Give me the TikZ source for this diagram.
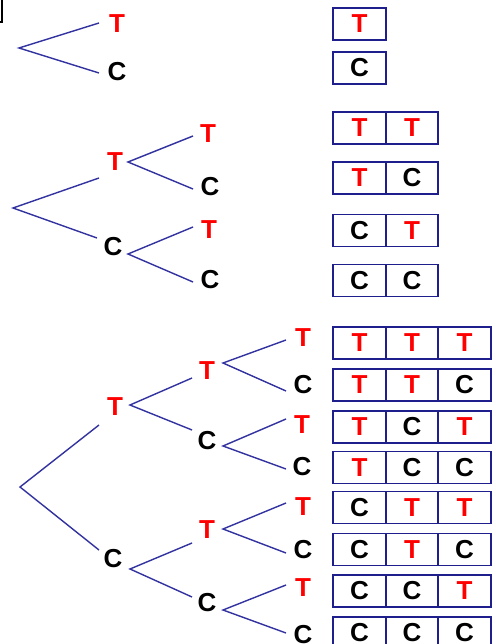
\documentclass[tikz,border=0pt]{standalone}
\usepackage{fontspec}
\setmainfont{Liberation Sans}
\definecolor{treeblue}{RGB}{50,50,160}
\definecolor{boxblue}{RGB}{30,30,140}
\begin{document}
\begin{tikzpicture}[x=1pt,y=-1pt,
  tl/.style={font=\fontsize{26}{26}\selectfont\bfseries, text=red, inner sep=0pt},
  cl/.style={font=\fontsize{26}{26}\selectfont\bfseries, text=black, inner sep=0pt},
  br/.style={draw=treeblue, line width=1.4pt},
  cell/.style={draw=boxblue, line width=1.6pt, minimum width=52.5pt, minimum height=32pt, inner sep=0pt, font=\fontsize{26}{26}\selectfont\bfseries},
  tc/.style={cell, text=red},
  cc/.style={cell, text=black}]
\useasboundingbox (0,0) rectangle (495,644);
\clip (0,0) rectangle (495,644);
\fill[white] (0,0) rectangle (495,644);
% corner artifact
\draw[black, line width=1.4pt] (2,0) -- (2,22) -- (0,22);

% ---------- Tree 1 ----------
\coordinate (r1) at (19,48);
\coordinate (e1t) at (99,23);
\coordinate (e1c) at (99,73);
\node[tl] (a1t) at (117,24) {T};
\node[cl] (a1c) at (117,72) {C};
\draw[br] (e1t) -- (r1) -- (e1c);

\node[tc] (b1a) at (359.5,24) {T};
\node[cc] (b1b) at (359.5,68) {C};

% ---------- Tree 2 ----------
\coordinate (r2) at (13,208);
\coordinate (e2t) at (99,178);
\coordinate (e2c) at (97,238);
\node[tl] (a2t) at (115,162) {T};
\node[cl] (a2c) at (113,247) {C};
\draw[br] (e2t) -- (r2) -- (e2c);

\coordinate (v2t) at (128,162);
\coordinate (e2tt) at (193,136);
\coordinate (e2tc) at (193,189);
\node[tl] (a2tt) at (208,134) {T};
\node[cl] (a2tc) at (210,187) {C};
\draw[br] (e2tt) -- (v2t) -- (e2tc);

\coordinate (v2c) at (128,254);
\coordinate (e2ct) at (193,227);
\coordinate (e2cc) at (193,282);
\node[tl] (a2ct) at (209,230) {T};
\node[cl] (a2cc) at (210,280) {C};
\draw[br] (e2ct) -- (v2c) -- (e2cc);

\node[tc] (b2r1a) at (359.5,128) {T};  \node[tc] (b2r1b) at (412,128) {T};
\node[tc] (b2r2a) at (359.5,178) {T};  \node[cc] (b2r2b) at (412,178) {C};
\node[cc] (b2r3a) at (359.5,230.5) {C};\node[tc] (b2r3b) at (412,230.5) {T};
\node[cc] (b2r4a) at (359.5,280.5) {C};\node[cc] (b2r4b) at (412,280.5) {C};

% ---------- Tree 3 ----------
\coordinate (r3) at (20,487);
\coordinate (e3t) at (99,425);
\coordinate (e3c) at (99,550);
\node[tl] (a3t) at (115,407) {T};
\node[cl] (a3c) at (113,559) {C};
\draw[br] (e3t) -- (r3) -- (e3c);

\coordinate (v3t) at (130,405);
\coordinate (e3tt) at (192,378);
\coordinate (e3tc) at (192,430);
\node[tl] (a3tt) at (207,371) {T};
\node[cl] (a3tc) at (207,441) {C};
\draw[br] (e3tt) -- (v3t) -- (e3tc);

\coordinate (v3c) at (130,569);
\coordinate (e3ct) at (192,543);
\coordinate (e3cc) at (192,597);
\node[tl] (a3ct) at (207,530) {T};
\node[cl] (a3cc) at (207,603) {C};
\draw[br] (e3ct) -- (v3c) -- (e3cc);

\coordinate (v3tt) at (223,363);
\coordinate (e3ttt) at (286,340);
\coordinate (e3ttc) at (286,391);
\node[tl] (a3ttt) at (303,338) {T};
\node[cl] (a3ttc) at (303,385) {C};
\draw[br] (e3ttt) -- (v3tt) -- (e3ttc);

\coordinate (v3tc) at (223,446);
\coordinate (e3tct) at (286,419);
\coordinate (e3tcc) at (286,469);
\node[tl] (a3tct) at (302,425) {T};
\node[cl] (a3tcc) at (302,467) {C};
\draw[br] (e3tct) -- (v3tc) -- (e3tcc);

\coordinate (v3ct) at (223,529);
\coordinate (e3ctt) at (286,503);
\coordinate (e3ctc) at (286,553);
\node[tl] (a3ctt) at (303,507) {T};
\node[cl] (a3ctc) at (303,550) {C};
\draw[br] (e3ctt) -- (v3ct) -- (e3ctc);

\coordinate (v3cc) at (223,610);
\coordinate (e3cct) at (286,585);
\coordinate (e3ccc) at (286,633);
\node[tl] (a3cct) at (303,588) {T};
\node[cl] (a3ccc) at (303,635) {C};
\draw[br] (e3cct) -- (v3cc) -- (e3ccc);

% boxes tree 3
\node[tc] (c1a) at (359.5,343) {T}; \node[tc] (c1b) at (412,343) {T}; \node[tc] (c1c) at (464.5,343) {T};
\node[tc] (c2a) at (359.5,385) {T}; \node[tc] (c2b) at (412,385) {T}; \node[cc] (c2c) at (464.5,385) {C};
\node[tc] (c3a) at (359.5,427) {T}; \node[cc] (c3b) at (412,427) {C}; \node[tc] (c3c) at (464.5,427) {T};
\node[tc] (c4a) at (359.5,467.5) {T}; \node[cc] (c4b) at (412,467.5) {C}; \node[cc] (c4c) at (464.5,467.5) {C};
\node[cc] (c5a) at (359.5,507.5) {C}; \node[tc] (c5b) at (412,507.5) {T}; \node[tc] (c5c) at (464.5,507.5) {T};
\node[cc] (c6a) at (359.5,549.5) {C}; \node[tc] (c6b) at (412,549.5) {T}; \node[cc] (c6c) at (464.5,549.5) {C};
\node[cc] (c7a) at (359.5,591) {C}; \node[cc] (c7b) at (412,591) {C}; \node[tc] (c7c) at (464.5,591) {T};
\node[cc] (c8a) at (359.5,633) {C}; \node[cc] (c8b) at (412,633) {C}; \node[cc] (c8c) at (464.5,633) {C};
\end{tikzpicture}
\end{document}
